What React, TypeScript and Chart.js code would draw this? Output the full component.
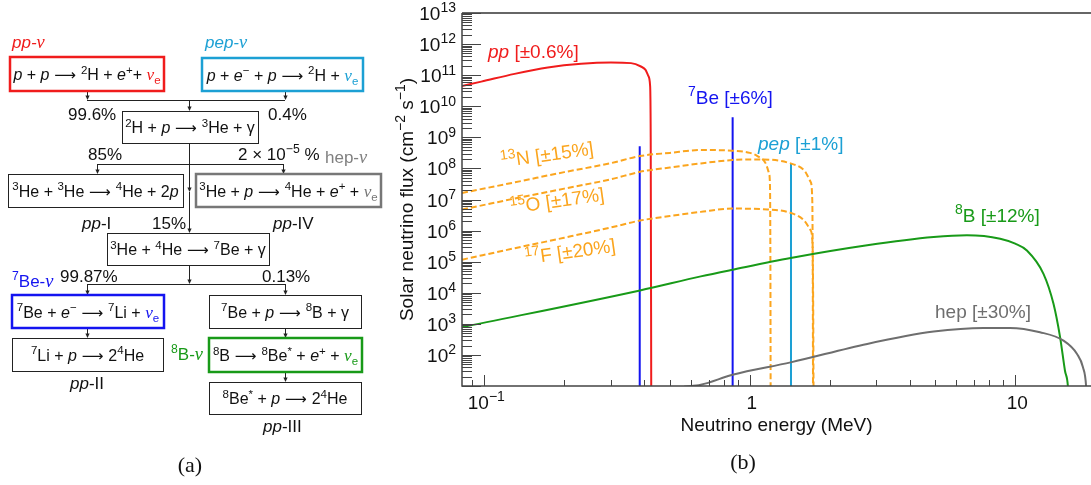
import React, { useEffect, useRef } from 'react';
import { Chart, registerables } from 'chart.js';
Chart.register(...registerables);

const SANS = '"Liberation Sans", Arial, Helvetica, sans-serif';
const SERIF = '"Liberation Serif", "Times New Roman", serif';
const ARROWFONT = '"DejaVu Sans", sans-serif';

// ---------- axis ranges & ticks ----------
const X_MIN = 0.0824;
const X_MAX = 19.3;
const Y_MIN = 10;
const Y_MAX = 1e13;
const yMajorExp = [1, 2, 3, 4, 5, 6, 7, 8, 9, 10, 11, 12, 13];
const yLabelExp = [2, 3, 4, 5, 6, 7, 8, 9, 10, 11, 12, 13];
const xMajorTicks = [0.1, 1, 10];
const xMinorTicks = [0.09, 0.2, 0.3, 0.4, 0.5, 0.6, 0.7, 0.8, 0.9, 2, 3, 4, 5, 6, 7, 8, 9];

// ---------- series (energy in MeV, flux in cm^-2 s^-1 [MeV^-1]) ----------
const ppEnergy = [0.0824, 0.0974, 0.13, 0.1735, 0.2316, 0.3, 0.357, 0.389, 0.405, 0.416, 0.421, 0.4235, 0.4256];
const ppFlux = [4.5e10, 6.2e10, 1.1e11, 1.76e11, 2.32e11, 2.55e11, 2.44e11, 1.9e11, 1.48e11, 9.0e10, 4.9e10, 1e9, 1];

const n13Energy = [0.0824, 0.13, 0.2, 0.3, 0.386, 0.5, 0.654, 0.861, 1.0, 1.069, 1.148, 1.182, 1.192, 1.196, 1.199];
const n13Flux = [1.63e7, 3.55e7, 7.6e7, 1.48e8, 2.5e8, 3.16e8, 3.9e8, 3.7e8, 3.16e8, 2.5e8, 1.45e8, 6.9e7, 2.6e7, 1e5, 1];

const o15Energy = [0.0824, 0.13, 0.2, 0.3, 0.386, 0.5, 0.654, 0.861, 1.1, 1.426, 1.6, 1.695, 1.72, 1.728, 1.732];
const o15Flux = [4.75e6, 1.07e7, 2.24e7, 4.47e7, 7.76e7, 1.07e8, 1.45e8, 1.86e8, 1.95e8, 1.45e8, 8.9e7, 3.7e7, 9.5e6, 1e4, 1];

const f17Energy = [0.0824, 0.13, 0.2, 0.3, 0.386, 0.5, 0.654, 0.861, 1.166, 1.426, 1.6, 1.695, 1.725, 1.735, 1.74];
const f17Flux = [1.16e5, 2.7e5, 5.9e5, 1.26e6, 2.1e6, 2.95e6, 4.0e6, 5.1e6, 4.8e6, 3.7e6, 2.14e6, 1.02e6, 3.2e5, 1e3, 1];

const b8Energy = [0.0824, 0.386, 0.654, 0.861, 1.426, 2.77, 4.93, 6.58, 8.78, 10.0, 11.07, 12.78, 13.94, 14.76, 15.4, 15.8, 16.0];
const b8Flux = [776, 1.19e4, 3.36e4, 5.5e4, 1.31e5, 3.36e5, 6.2e5, 7.1e5, 5.5e5, 3.8e5, 2.29e5, 4.07e4, 4.4e3, 372, 31, 9.5, 1];

const hepEnergy = [0.566, 0.654, 0.861, 1.426, 2.77, 4.93, 7.6, 9.55, 12.4, 15.2, 17.1, 18.0, 18.5, 18.7];
const hepFlux = [9.5, 11, 23, 57.5, 226, 562, 741, 741, 537, 288, 107, 40, 9.5, 1];

const be7Energy = [0.385, 0.862];
const be7Flux = [5.2e8, 4.4e9];
const pepEnergy = [1.43];
const pepFlux = [1.45e8];

// ---------- colours ----------
const RED = '#f01c1c';
const BLUE = '#1414f0';
const CYAN = '#1ca0d4';
const ORANGE = '#fba51e';
const GREEN = '#189a18';
const GRAY = '#6e6e6e';
const AXIS = '#444444';

type Seg = { t: string; sup?: boolean; it?: boolean };

function segFont(s: Seg, size: number) {
  return `${s.it ? 'italic ' : ''}${s.sup ? Math.round(size * 0.72) : size}px ${SANS}`;
}
function richWidth(ctx: CanvasRenderingContext2D, segs: Seg[], size: number) {
  let w = 0;
  for (const s of segs) {
    ctx.font = segFont(s, size);
    w += ctx.measureText(s.t).width;
  }
  return w;
}
function drawRich(
  ctx: CanvasRenderingContext2D,
  segs: Seg[],
  x: number,
  y: number,
  size: number,
  align: 'left' | 'center' | 'right',
  color: string,
  angle = 0
) {
  const w = richWidth(ctx, segs, size);
  ctx.save();
  ctx.translate(x, y);
  if (angle) ctx.rotate(angle);
  let cx = align === 'left' ? 0 : align === 'center' ? -w / 2 : -w;
  ctx.fillStyle = color;
  ctx.textAlign = 'left';
  ctx.textBaseline = 'alphabetic';
  for (const s of segs) {
    ctx.font = segFont(s, size);
    ctx.fillText(s.t, cx, s.sup ? -size * 0.4 : 0);
    cx += ctx.measureText(s.t).width;
  }
  ctx.restore();
}

const FS = 19;
const deg = Math.PI / 180;

const curveLabels: { segs: Seg[]; x: number; y: number; align: 'left' | 'center'; color: string; angle: number }[] = [
  { segs: [{ t: 'pp', it: true }, { t: ' [±0.6%]' }], x: 488, y: 58, align: 'left', color: RED, angle: 0 },
  { segs: [{ t: '7', sup: true }, { t: 'Be [±6%]' }], x: 688, y: 104, align: 'left', color: BLUE, angle: 0 },
  { segs: [{ t: 'pep', it: true }, { t: ' [±1%]' }], x: 758, y: 150, align: 'left', color: CYAN, angle: 0 },
  { segs: [{ t: '8', sup: true }, { t: 'B [±12%]' }], x: 955, y: 222, align: 'left', color: GREEN, angle: 0 },
  { segs: [{ t: 'hep [±30%]' }], x: 935, y: 318, align: 'left', color: GRAY, angle: 0 },
  { segs: [{ t: '13', sup: true }, { t: 'N [±15%]' }], x: 548, y: 161, align: 'center', color: ORANGE, angle: -8 * deg },
  { segs: [{ t: '15', sup: true }, { t: 'O [±17%]' }], x: 558, y: 207, align: 'center', color: ORANGE, angle: -8 * deg },
  { segs: [{ t: '17', sup: true }, { t: 'F [±20%]' }], x: 571, y: 258, align: 'center', color: ORANGE, angle: -8 * deg },
];

const axesPlugin = {
  id: 'axesPlugin',
  afterDraw(chart: any) {
    const { ctx, chartArea: a, scales } = chart;
    const xs = scales.x;
    const ys = scales.y;
    ctx.save();
    // frame
    ctx.lineCap = 'butt';
    ctx.strokeStyle = '#333';
    ctx.lineWidth = 1.3;
    ctx.beginPath();
    ctx.moveTo(a.left, a.top);
    ctx.lineTo(a.right, a.top);
    ctx.stroke();
    ctx.strokeStyle = AXIS;
    ctx.lineWidth = 1.5;
    ctx.beginPath();
    ctx.moveTo(a.left, a.top);
    ctx.lineTo(a.left, a.bottom);
    ctx.lineTo(a.right, a.bottom);
    ctx.stroke();

    // y ticks
    ctx.lineWidth = 1;
    ctx.beginPath();
    for (const e of yMajorExp) {
      const py = Math.round(ys.getPixelForValue(Math.pow(10, e))) + 0.5;
      ctx.moveTo(a.left, py);
      ctx.lineTo(a.left + 19, py);
      if (e < 13) {
        for (let m = 2; m <= 9; m++) {
          const pm = Math.round(ys.getPixelForValue(m * Math.pow(10, e))) + 0.5;
          ctx.moveTo(a.left, pm);
          ctx.lineTo(a.left + 10, pm);
        }
      }
    }
    // x ticks
    for (const v of xMajorTicks) {
      const px = Math.round(xs.getPixelForValue(v)) + 0.5;
      ctx.moveTo(px, a.bottom);
      ctx.lineTo(px, a.bottom - 11);
    }
    for (const v of xMinorTicks) {
      const px = Math.round(xs.getPixelForValue(v)) + 0.5;
      ctx.moveTo(px, a.bottom);
      ctx.lineTo(px, a.bottom - 6);
    }
    ctx.stroke();

    // y tick labels
    for (const e of yLabelExp) {
      const py = ys.getPixelForValue(Math.pow(10, e));
      drawRich(ctx, [{ t: '10' }, { t: String(e), sup: true }], 456, py + 7, FS, 'right', '#111');
    }
    // x tick labels
    const xl: Seg[][] = [[{ t: '10' }, { t: '−1', sup: true }], [{ t: '1' }], [{ t: '10' }]];
    xMajorTicks.forEach((v, i) => {
      const px = xs.getPixelForValue(v);
      drawRich(ctx, xl[i], px + 2, 409, FS, 'center', '#111');
    });
    // axis titles
    drawRich(ctx, [{ t: 'Neutrino energy (MeV)' }], (a.left + a.right) / 2, 431, FS, 'center', '#111');
    drawRich(
      ctx,
      [{ t: 'Solar neutrino flux (cm' }, { t: '−2', sup: true }, { t: ' s' }, { t: '−1', sup: true }, { t: ')' }],
      413,
      (a.top + a.bottom) / 2,
      FS,
      'center',
      '#111',
      -Math.PI / 2
    );
    // curve labels
    for (const l of curveLabels) {
      drawRich(ctx, l.segs, l.x, l.y, FS, l.align, l.color, l.angle);
    }
    // panel label
    ctx.font = `22px ${SERIF}`;
    ctx.fillStyle = '#111';
    ctx.textAlign = 'center';
    ctx.fillText('(b)', 743, 469);
    ctx.restore();
  },
};

function pts(es: number[], fs: number[]) {
  return es.map((e, i) => ({ x: e, y: fs[i] }));
}

function curve(es: number[], fs: number[], color: string, dash: number[] = []) {
  return {
    data: pts(es, fs),
    showLine: true,
    borderColor: color,
    borderWidth: 2,
    borderDash: dash,
    pointRadius: 0,
    pointHoverRadius: 0,
    fill: false,
    cubicInterpolationMode: 'monotone' as const,
  };
}

function lineSet(es: number[], fs: number[], color: string) {
  return es.map((e, i) => ({
    data: [
      { x: e, y: fs[i] },
      { x: e, y: 1 },
    ],
    showLine: true,
    borderColor: color,
    borderWidth: 2,
    pointRadius: 0,
    pointHoverRadius: 0,
    fill: false,
  }));
}

// ---------- diagram (a) ----------
type TS = [string, string?, string?];
const AR: TS = [' ⟶ ', 'ar'];

function Rich(props: { x: number; y: number; anchor?: string; segs: TS[]; size?: number; color?: string }) {
  const size = props.size ?? 16;
  let off = 0;
  const kids = props.segs.map((s, i) => {
    const [t, st, col] = s;
    let target = 0;
    let fs = size;
    let fst = 'normal';
    let ff = SANS;
    if (st === 'sup') {
      target = -size * 0.4;
      fs = size * 0.72;
    } else if (st === 'sub') {
      target = size * 0.25;
      fs = size * 0.72;
    } else if (st === 'i') {
      fst = 'italic';
    } else if (st === 'nu') {
      fst = 'italic';
      ff = SERIF;
      fs = size * 1.08;
    } else if (st === 'ar') {
      ff = ARROWFONT;
      fs = size * 0.95;
    }
    const dy = target - off;
    off = target;
    return (
      <tspan key={i} dy={dy} fontSize={fs} fontStyle={fst} fontFamily={ff} fill={col}>
        {t}
      </tspan>
    );
  });
  return (
    <text
      x={props.x}
      y={props.y}
      textAnchor={props.anchor ?? 'start'}
      fontSize={size}
      fontFamily={SANS}
      fill={props.color ?? '#111'}
      style={{ whiteSpace: 'pre' }}
    >
      {kids}
    </text>
  );
}

type Box = { x1: number; y1: number; x2: number; y2: number; color: string; w: number; segs: TS[] };

const boxes: Box[] = [
  { x1: 10, y1: 57, x2: 164, y2: 91, color: RED, w: 2.5, segs: [['p', 'i'], [' + '], ['p', 'i'], AR, ['2', 'sup'], ['H + '], ['e', 'i'], ['+', 'sup'], ['+ '], ['ν', 'nu', RED], ['e', 'sub', RED]] },
  { x1: 202, y1: 58, x2: 363, y2: 91, color: CYAN, w: 2.5, segs: [['p', 'i'], [' + '], ['e', 'i'], ['−', 'sup'], [' + '], ['p', 'i'], AR, ['2', 'sup'], ['H + '], ['ν', 'nu', CYAN], ['e', 'sub', CYAN]] },
  { x1: 122, y1: 111, x2: 258, y2: 143, color: '#222', w: 1, segs: [['2', 'sup'], ['H + '], ['p', 'i'], AR, ['3', 'sup'], ['He + γ']] },
  { x1: 8, y1: 174, x2: 183, y2: 207, color: '#222', w: 1, segs: [['3', 'sup'], ['He + '], ['3', 'sup'], ['He'], AR, ['4', 'sup'], ['He + 2'], ['p', 'i']] },
  { x1: 196, y1: 174, x2: 381, y2: 207, color: '#777', w: 2.5, segs: [['3', 'sup'], ['He + '], ['p', 'i'], AR, ['4', 'sup'], ['He + '], ['e', 'i'], ['+', 'sup'], [' + '], ['ν', 'nu', '#777'], ['e', 'sub', '#777']] },
  { x1: 107, y1: 233, x2: 269, y2: 265, color: '#222', w: 1, segs: [['3', 'sup'], ['He + '], ['4', 'sup'], ['He'], AR, ['7', 'sup'], ['Be + γ']] },
  { x1: 12, y1: 295, x2: 164, y2: 328, color: BLUE, w: 2.5, segs: [['7', 'sup'], ['Be + '], ['e', 'i'], ['−', 'sup'], AR, ['7', 'sup'], ['Li + '], ['ν', 'nu', BLUE], ['e', 'sub', BLUE]] },
  { x1: 209, y1: 295, x2: 361, y2: 328, color: '#222', w: 1, segs: [['7', 'sup'], ['Be + '], ['p', 'i'], AR, ['8', 'sup'], ['B + γ']] },
  { x1: 12, y1: 338, x2: 163, y2: 371, color: '#222', w: 1, segs: [['7', 'sup'], ['Li + '], ['p', 'i'], AR, ['2'], ['4', 'sup'], ['He']] },
  { x1: 209, y1: 338, x2: 362, y2: 372, color: GREEN, w: 2.5, segs: [['8', 'sup'], ['B'], AR, ['8', 'sup'], ['Be'], ['*', 'sup'], [' + '], ['e', 'i'], ['+', 'sup'], [' + '], ['ν', 'nu', GREEN], ['e', 'sub', GREEN]] },
  { x1: 209, y1: 382, x2: 361, y2: 414, color: '#222', w: 1, segs: [['8', 'sup'], ['Be'], ['*', 'sup'], [' + '], ['p', 'i'], AR, ['2'], ['4', 'sup'], ['He']] },
];

// [x1, y1, x2, y2, arrow at end]
const links: [number, number, number, number, boolean][] = [
  [87, 91, 87, 100, true],
  [285, 91, 285, 100, true],
  [87, 100, 285, 100, false],
  [189, 100, 189, 111, true],
  [189, 143, 189, 192, true],
  [189, 192, 189, 233, true],
  [97, 164, 283, 164, false],
  [97, 164, 97, 174, true],
  [283, 164, 283, 174, true],
  [189, 265, 189, 284, true],
  [87, 284, 285, 284, false],
  [87, 284, 87, 295, true],
  [285, 284, 285, 295, true],
  [87, 328, 87, 338, true],
  [285, 328, 285, 338, true],
  [285, 372, 285, 382, true],
];

const notes: { x: number; y: number; segs: TS[]; color?: string }[] = [
  { x: 12, y: 48, segs: [['pp-', 'i'], ['ν', 'nu']], color: RED },
  { x: 205, y: 48, segs: [['pep-', 'i'], ['ν', 'nu']], color: CYAN },
  { x: 68, y: 120, segs: [['99.6%']] },
  { x: 268, y: 120, segs: [['0.4%']] },
  { x: 88, y: 160, segs: [['85%']] },
  { x: 238, y: 160, segs: [['2 × 10'], ['−5', 'sup'], [' %']] },
  { x: 325, y: 163, segs: [['hep-'], ['ν', 'nu']], color: '#808080' },
  { x: 82, y: 229, segs: [['pp', 'i'], ['-I']] },
  { x: 152, y: 229, segs: [['15%']] },
  { x: 273, y: 229, segs: [['pp', 'i'], ['-IV']] },
  { x: 12, y: 287, segs: [['7', 'sup'], ['Be-'], ['ν', 'nu']], color: BLUE },
  { x: 60, y: 282, segs: [['99.87%']] },
  { x: 262, y: 282, segs: [['0.13%']] },
  { x: 171, y: 360, segs: [['8', 'sup'], ['B-'], ['ν', 'nu']], color: GREEN },
  { x: 70, y: 389, segs: [['pp', 'i'], ['-II']] },
  { x: 263, y: 432, segs: [['pp', 'i'], ['-III']] },
];

function Diagram() {
  return (
    <svg width={400} height={485} style={{ position: 'absolute', left: 0, top: 0 }}>
      {links.map(([x1, y1, x2, y2, arrow], i) => (
        <g key={'l' + i}>
          <line
            x1={x1 + 0.5}
            y1={y1}
            x2={x2 + 0.5}
            y2={arrow ? y2 - 2 : y2}
            stroke="#222"
            strokeWidth={1}
            transform={y1 === y2 ? 'translate(-0.5,0.5)' : undefined}
          />
          {arrow && <polygon points={`${x2 - 1.6},${y2 - 4.5} ${x2 + 2.6},${y2 - 4.5} ${x2 + 0.5},${y2}`} fill="#222" />}
        </g>
      ))}
      {boxes.map((b, i) => (
        <g key={'b' + i}>
          <rect
            x={b.x1 + (b.w === 1 ? 0.5 : 0)}
            y={b.y1 + (b.w === 1 ? 0.5 : 0)}
            width={b.x2 - b.x1}
            height={b.y2 - b.y1}
            fill="#fff"
            stroke={b.color}
            strokeWidth={b.w}
          />
          <Rich x={(b.x1 + b.x2) / 2} y={(b.y1 + b.y2) / 2 + 6} anchor="middle" segs={b.segs} />
        </g>
      ))}
      {notes.map((n, i) => (
        <Rich key={'n' + i} x={n.x} y={n.y} segs={n.segs} color={n.color} size={17} />
      ))}
      <text x={190} y={472} textAnchor="middle" fontFamily={SERIF} fontSize={22} fill="#111">
        (a)
      </text>
    </svg>
  );
}

export default function App() {
  const ref = useRef<HTMLCanvasElement>(null);
  useEffect(() => {
    if (!ref.current) return;
    const datasets: any[] = [
      curve(hepEnergy, hepFlux, GRAY),
      curve(b8Energy, b8Flux, GREEN),
      curve(f17Energy, f17Flux, ORANGE, [6, 3]),
      curve(o15Energy, o15Flux, ORANGE, [6, 3]),
      curve(n13Energy, n13Flux, ORANGE, [6, 3]),
      ...lineSet(pepEnergy, pepFlux, CYAN),
      ...lineSet(be7Energy, be7Flux, BLUE),
      curve(ppEnergy, ppFlux, RED),
    ];
    const chart = new Chart(ref.current, {
      type: 'scatter',
      data: { datasets },
      options: {
        animation: false,
        responsive: false,
        events: [],
        layout: { padding: { left: 462, top: 13, right: 0, bottom: 99 } },
        plugins: { legend: { display: false }, tooltip: { enabled: false } },
        scales: {
          x: { type: 'logarithmic', min: X_MIN, max: X_MAX, display: false },
          y: { type: 'logarithmic', min: Y_MIN, max: Y_MAX, display: false },
        },
      },
      plugins: [axesPlugin],
    } as any);
    return () => chart.destroy();
  }, []);
  return (
    <div style={{ position: 'absolute', left: 0, top: 0, width: 1091, height: 485, background: '#fff', overflow: 'hidden' }}>
      <canvas ref={ref} width={1091} height={485} style={{ position: 'absolute', left: 0, top: 0 }} />
      <Diagram />
    </div>
  );
}
